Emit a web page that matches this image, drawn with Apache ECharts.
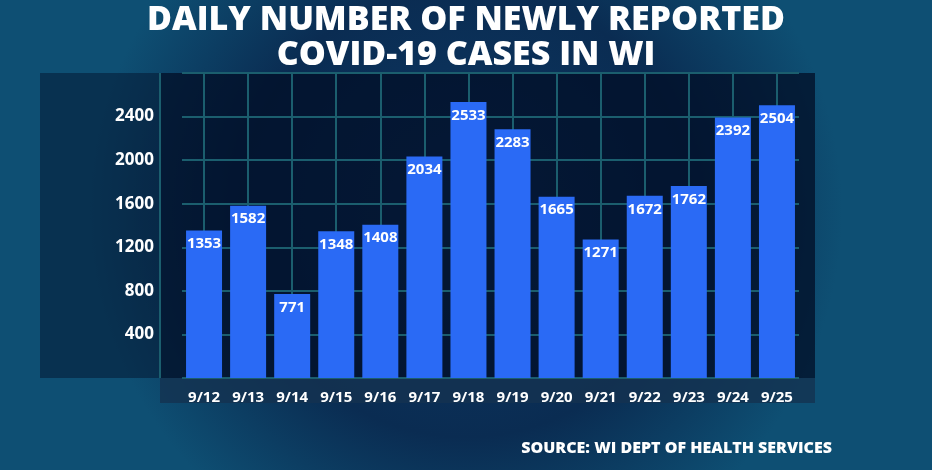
<!DOCTYPE html>
<html>
<head>
<meta charset="utf-8">
<script src="https://cdn.jsdelivr.net/npm/echarts@6/dist/echarts.min.js"></script>
<style>html,body{margin:0;padding:0;}#chart{width:932px;height:470px;}</style>
</head>
<body>
<div id="chart"></div>
<script>
// 日期与病例数
var days = ['9/12', '9/13', '9/14', '9/15', '9/16', '9/17', '9/18', '9/19', '9/20', '9/21', '9/22', '9/23', '9/24', '9/25'];
var cases = [1353, 1582, 771, 1348, 1408, 2034, 2533, 2283, 1665, 1271, 1672, 1762, 2392, 2504];

var chart = echarts.init(document.getElementById('chart'));
var font = '"Open Sans", "DejaVu Sans", sans-serif';
var option = {
    backgroundColor: {
        type: 'radial', x: 0.5, y: 0.45, r: 0.8,
        colorStops: [{offset: 0, color: '#0d3a66'}, {offset: 0.6, color: '#0a2c52'}, {offset: 1, color: '#0e4f73'}]
    },
    graphic: [
        {type: 'rect', shape: {x: 160, y: 73, width: 655, height: 305}, style: {fill: 'rgba(2,14,38,0.75)'}, z: -1},
        {type: 'rect', shape: {x: 160, y: 378, width: 655, height: 25}, style: {fill: 'rgba(20,50,80,0.8)'}, z: -1},
        {type: 'rect', shape: {x: 40, y: 73, width: 120, height: 305}, style: {fill: 'rgba(2,14,38,0.45)'}, z: -1},
        {type: 'line', shape: {x1: 160, y1: 73, x2: 160, y2: 378}, style: {stroke: '#1b5e6e', lineWidth: 2}},
        {type: 'text', left: 'center', top: 3, style: {text: 'DAILY NUMBER OF NEWLY REPORTED\nCOVID-19 CASES IN WI', fill: '#fff', font: '800 34px ' + font, textAlign: 'center', lineHeight: 35}},
        {type: 'text', right: 100, top: 440, style: {text: 'SOURCE: WI DEPT OF HEALTH SERVICES', fill: '#fff', font: '800 16px ' + font}}
    ],
    grid: [
        {left: 182, right: 133, top: 73, bottom: 92},
        {left: 204, right: 155, top: 73, bottom: 92}
    ],
    xAxis: [
        {
            type: 'category', data: days, gridIndex: 0,
            axisLine: {show: false}, axisTick: {show: false},
            axisLabel: {interval: 0, color: '#fff', fontWeight: 'bold', fontSize: 15, fontFamily: font, margin: 12}
        },
        {
            type: 'category', data: days, gridIndex: 1, boundaryGap: false,
            axisLine: {show: false}, axisTick: {show: false}, axisLabel: {show: false, interval: 0},
            splitLine: {show: true, interval: 0, lineStyle: {color: '#1b5e6e', width: 2}}
        }
    ],
    yAxis: [
        {
            type: 'value', min: 0, max: 2800, interval: 400, gridIndex: 0,
            axisLine: {show: false}, axisTick: {show: false},
            splitLine: {show: true, lineStyle: {color: '#1b5e6e', width: 2}},
            axisLabel: {
                color: '#fff', fontWeight: 'bold', fontSize: 17, fontFamily: font, margin: 28,
                formatter: function (v) { return (v === 0 || v === 2800) ? '' : v; }
            }
        },
        {type: 'value', min: 0, max: 2800, gridIndex: 1, show: false, splitLine: {show: false}}
    ],
    series: [{
        type: 'bar', data: cases, barWidth: 36,
        itemStyle: {color: '#2a6af5'},
        label: {show: true, position: 'insideTop', distance: 6, color: '#fff', fontWeight: 'bold', fontSize: 15, fontFamily: font}
    }]
};
chart.setOption(option);
</script>
</body>
</html>
